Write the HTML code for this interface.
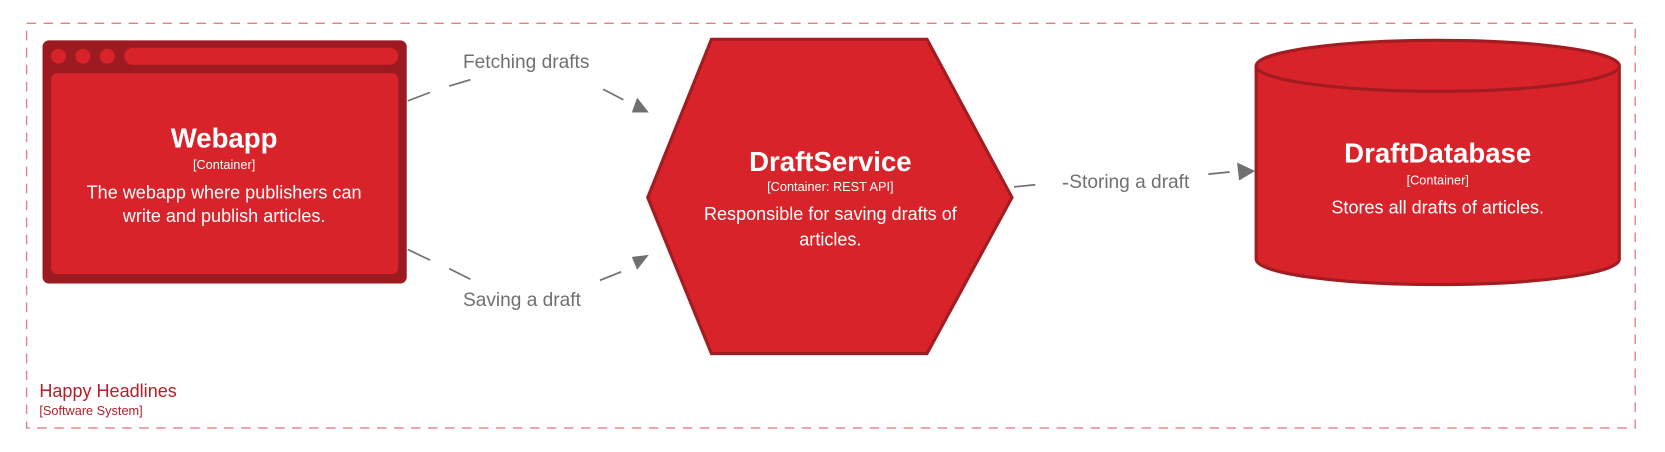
<!DOCTYPE html>
<html><head><style>body{margin:0;background:#fff}svg{display:block}text{font-family:"Liberation Sans",sans-serif}</style></head><body>
<svg width="1665" height="452" viewBox="0 0 1568 425.7" xmlns="http://www.w3.org/2000/svg">
<rect x="25" y="22" width="1515" height="381" fill="none" stroke="#e0808a" stroke-width="1.3" stroke-dasharray="9,7"/>
<text x="37" y="374" font-size="17" fill="#b3202a">Happy Headlines</text>
<text x="37" y="391" font-size="12" fill="#b3202a">[Software System]</text>
<rect x="40" y="38" width="343" height="229" rx="6" fill="#9e1a21"/>
<rect x="48" y="69" width="327" height="189" rx="6" fill="#d8232a"/>
<circle cx="55" cy="53" r="7" fill="#d8232a"/><circle cx="78" cy="53" r="7" fill="#d8232a"/><circle cx="101" cy="53" r="7" fill="#d8232a"/>
<rect x="117" y="45" width="258" height="16" rx="8" fill="#d8232a"/>
<g fill="#fff" text-anchor="middle">
<text x="211" y="139" font-size="26" font-weight="bold">Webapp</text>
<text x="211" y="159" font-size="12">[Container]</text>
<text x="211" y="187" font-size="17">The webapp where publishers can</text>
<text x="211" y="209" font-size="17">write and publish articles.</text>
</g>
<polygon points="670,37 873,37 953,186 873,333 670,333 610,186" fill="#d8232a" stroke="#a31c22" stroke-width="3"/>
<g fill="#fff" text-anchor="middle">
<text x="782" y="161" font-size="26" font-weight="bold">DraftService</text>
<text x="782" y="180" font-size="12">[Container: REST API]</text>
<text x="782" y="207" font-size="17">Responsible for saving drafts of</text>
<text x="782" y="231" font-size="17">articles.</text>
</g>
<path d="M1183,62 L1183,244 A171,24 0 0 0 1525,244 L1525,62" fill="#d8232a" stroke="#a31c22" stroke-width="3"/>
<ellipse cx="1354" cy="62" rx="171" ry="24" fill="#d8232a" stroke="#a31c22" stroke-width="3"/>
<g fill="#fff" text-anchor="middle">
<text x="1354" y="153" font-size="26" font-weight="bold">DraftDatabase</text>
<text x="1354" y="174" font-size="12">[Container]</text>
<text x="1354" y="201" font-size="17">Stores all drafts of articles.</text>
</g>
<g stroke="#707070" stroke-width="1.6" fill="none">
<line x1="384" y1="95" x2="405" y2="87"/><line x1="423" y1="81" x2="443" y2="75"/>
<line x1="568" y1="84" x2="587" y2="94"/>
<line x1="384" y1="235" x2="405" y2="245"/><line x1="423" y1="253" x2="443" y2="263"/>
<line x1="565" y1="264" x2="585" y2="256"/>
<line x1="955" y1="176" x2="975" y2="174"/><line x1="1001" y1="173" x2="1006" y2="173"/><line x1="1138" y1="164" x2="1158" y2="162"/>
</g>
<g fill="#707070">
<polygon points="611,106 595,106 600,92"/>
<polygon points="611,240 600,254 595,242"/>
<polygon points="1182,161 1165,153 1167,170"/>
</g>
<g fill="#707070" font-size="18">
<text x="436" y="64">Fetching drafts</text>
<text x="436" y="288">Saving a draft</text>
<text x="1007" y="177">Storing a draft</text>
</g>
</svg>
</body></html>
